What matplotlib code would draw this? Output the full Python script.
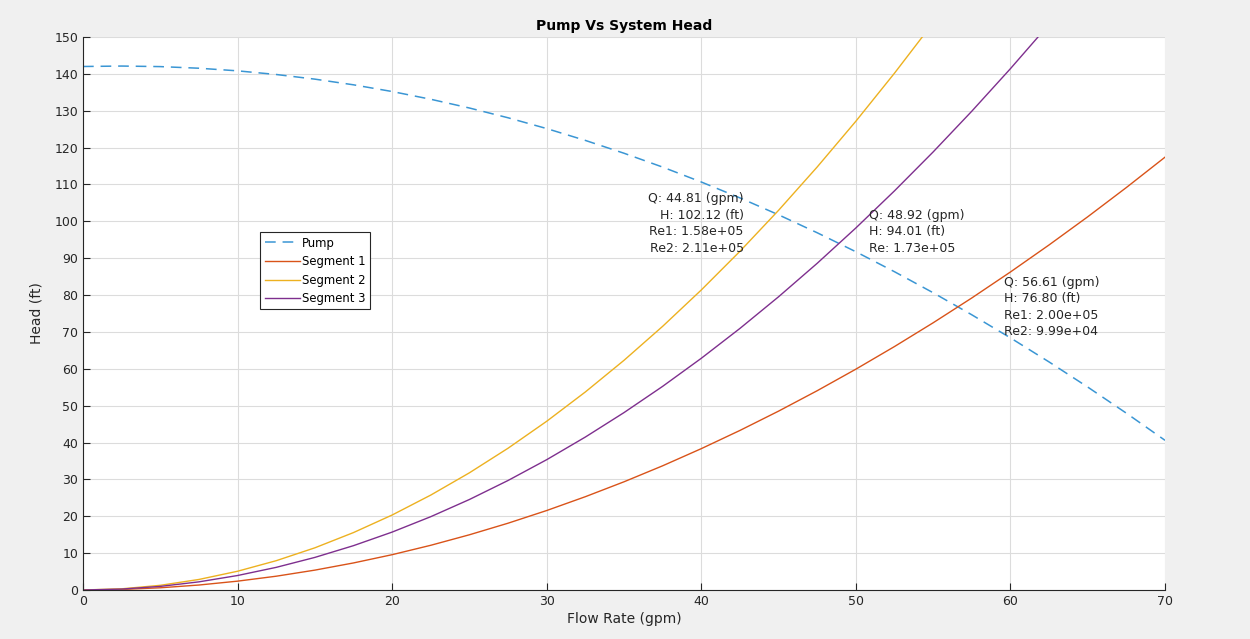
import matplotlib.pyplot as plt

# flow rate samples (gpm)
flow = [0, 2.5, 5, 7.5, 10, 12.5, 15, 17.5, 20, 22.5, 25, 27.5, 30, 32.5, 35,
        37.5, 40, 42.5, 45, 47.5, 50, 52.5, 55, 57.5, 60, 62.5, 65, 67.5, 70]

# head values (ft)
pump = [142.0, 142.12, 141.97, 141.53, 140.82, 139.83, 138.57, 137.03, 135.21,
        133.11, 130.74, 128.09, 125.16, 121.95, 118.47, 114.71, 110.67, 106.36,
        101.77, 96.90, 91.75, 86.33, 80.63, 74.65, 68.39, 61.86, 55.05, 47.96, 40.60]
seg1 = [0, 0.15, 0.60, 1.35, 2.40, 3.74, 5.39, 7.34, 9.58, 12.13, 14.98, 18.12,
        21.56, 25.31, 29.35, 33.69, 38.34, 43.28, 48.52, 54.06, 59.90, 66.04,
        72.48, 79.21, 86.26, 93.60, 101.23, 109.17, 117.40]
seg2 = [0, 0.32, 1.27, 2.86, 5.09, 7.95, 11.44, 15.58, 20.34, 25.75, 31.79, 38.46,
        45.77, 53.72, 62.30, 71.52, 81.38, 91.87, 102.99, 114.75, 127.15, 140.19,
        153.85, 168.16, 183.10, 198.69, 214.88, 231.73, 249.21]
seg3 = [0, 0.25, 0.98, 2.21, 3.93, 6.14, 8.84, 12.03, 15.71, 19.89, 24.55, 29.71,
        35.35, 41.49, 48.12, 55.24, 62.85, 70.95, 79.54, 88.62, 98.20, 108.27,
        118.82, 129.87, 141.41, 153.44, 165.96, 178.97, 192.47]

# operating point notes
notes = [
    "Q: 44.81 (gpm)\nH: 102.12 (ft)\nRe1: 1.58e+05\nRe2: 2.11e+05",
    "Q: 48.92 (gpm)\nH: 94.01 (ft)\nRe: 1.73e+05",
    "Q: 56.61 (gpm)\nH: 76.80 (ft)\nRe1: 2.00e+05\nRe2: 9.99e+04",
]
note_pos = [(42.75, 107.9), (50.85, 103.4), (59.6, 85.3)]
note_ha = ["right", "left", "left"]

txt = '#262626'

fig = plt.figure(figsize=(12.5, 6.39), dpi=100, facecolor='#f0f0f0')
ax = fig.add_axes([83/1250, 49/639, 1082/1250, 553/639])
ax.set_facecolor('white')

ax.plot(flow, pump, '--', color='#3a96d4', lw=1.1, dashes=(7, 4.5), label='Pump')
ax.plot(flow, seg1, color='#d95319', lw=1.0, label='Segment 1')
ax.plot(flow, seg2, color='#edb120', lw=1.0, label='Segment 2')
ax.plot(flow, seg3, color='#7e2f8e', lw=1.0, label='Segment 3')

for s, (x, y), ha in zip(notes, note_pos, note_ha):
    ax.text(x, y, s, ha=ha, va='top', fontsize=9, color=txt, linespacing=1.35)

ax.set_xlim(0, 70)
ax.set_ylim(0, 150)
ax.set_xticks(range(0, 71, 10))
ax.set_yticks(range(0, 151, 10))
ax.grid(True, color='#dcdcdc', lw=0.8)
ax.set_axisbelow(True)
for side in ['top', 'right']:
    ax.spines[side].set_visible(False)
for side in ['left', 'bottom']:
    ax.spines[side].set_color('#262626')
    ax.spines[side].set_linewidth(0.8)
ax.tick_params(direction='in', length=5, labelsize=9, colors=txt, width=0.8)

ax.set_xlabel('Flow Rate (gpm)', fontsize=10, color=txt, labelpad=3)
ax.set_ylabel('Head (ft)', fontsize=10, color=txt, labelpad=8)
ax.set_title('Pump Vs System Head', fontsize=10, fontweight='bold', color='black', pad=5)

leg = ax.legend(loc='upper left', bbox_to_anchor=(0.164, 0.6465), fontsize=8.4,
                handlelength=3.0, handletextpad=0.2, borderpad=0.35,
                labelspacing=0.48, fancybox=False, framealpha=1,
                borderaxespad=0)
leg.get_frame().set_edgecolor('#262626')
leg.get_frame().set_linewidth(0.8)

fig.savefig('out.png', dpi=100, facecolor=fig.get_facecolor())
